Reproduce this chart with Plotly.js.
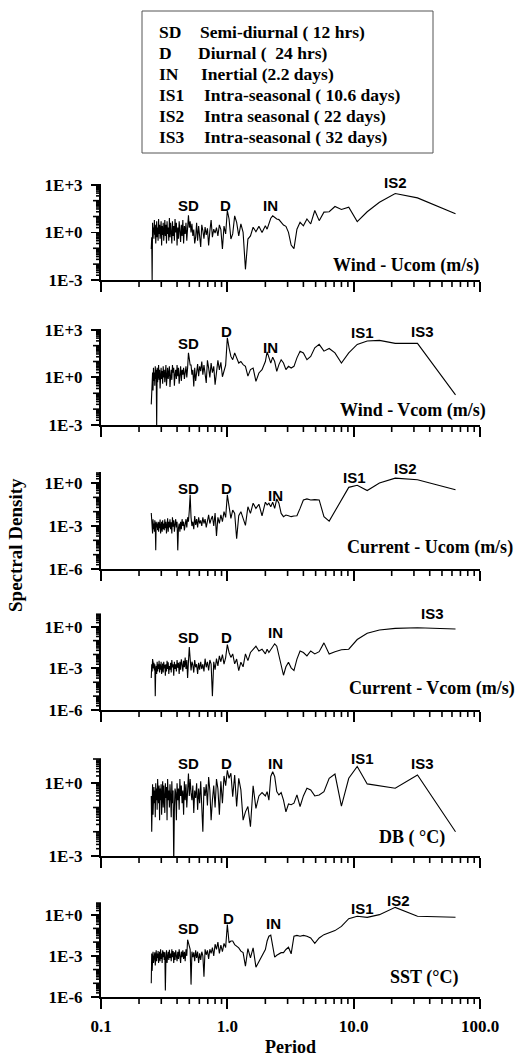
<!DOCTYPE html>
<html><head><meta charset="utf-8">
<script src="https://cdn.plot.ly/plotly-3.0.1.min.js"></script>
<style>html,body{margin:0;padding:0;background:#fff}</style>
</head><body><div id="chart" style="width:528px;height:1057px"></div>
<script>
// Period (days) of each spectral estimate
const periods = [64, 32, 21.33, 16, 12.8, 10.67, 9.143, 8, 7.111, 6.4,
 5.818, 5.333, 4.923, 4.571, 4.267, 4, 3.765, 3.556, 3.368, 3.2,
 3.048, 2.909, 2.783, 2.667, 2.56, 2.462, 2.370, 2.286, 2.207, 2.133,
 2.065, 2,
 1.882, 1.778, 1.684, 1.6, 1.524, 1.455, 1.391, 1.333, 1.28, 1.231, 1.185, 1.143, 1.103, 1.067, 1.032, 1,
 0.9697, 0.9412, 0.9143, 0.8889, 0.8649, 0.8421, 0.8205, 0.8, 0.7805, 0.7619,
 0.7442, 0.7273, 0.7111, 0.6957, 0.6809, 0.6667, 0.6531, 0.64, 0.6275, 0.6154,
 0.6038, 0.5926, 0.5818, 0.5714, 0.5614, 0.5517, 0.5424, 0.5333, 0.5246, 0.5161,
 0.5079, 0.5, 0.4923, 0.4848, 0.4776, 0.4706, 0.4638, 0.4571, 0.4507, 0.4444,
 0.4384, 0.4324, 0.4267, 0.4211, 0.4156, 0.4103, 0.4051, 0.4, 0.3951, 0.3902,
 0.3855, 0.381, 0.3765, 0.3721, 0.3678, 0.3636, 0.3596, 0.3556, 0.3516, 0.3478,
 0.3441, 0.3404, 0.3368, 0.3333, 0.3299, 0.3265, 0.3232, 0.32, 0.3168, 0.3137,
 0.3107, 0.3077, 0.3048, 0.3019, 0.2991, 0.2963, 0.2936, 0.2909, 0.2883, 0.2857,
 0.2832, 0.2807, 0.2783, 0.2759, 0.2735, 0.2712, 0.2689, 0.2667, 0.2645, 0.2623,
 0.2602, 0.2581, 0.256, 0.254, 0.252, 0.25];

const windU = [15, 150, 280, 80, 20, 4.8, 39, 28, 43, 20,
 19, 5.5, 24, 3.4, 7, 2.6, 4.3, 1.6, 0.095, 0.16,
 1, 2.4, 2.9, 4.3, 6.4, 7, 9, 11, 7.8, 3.4,
 1.6, 2.6,
 1, 2.4, 1.1, 2.1, 0.6, 0.38, 0.0047, 1, 3.4, 0.6, 4.3, 11, 0.8, 0.38, 7, 24,
 0.8, 2.5, 0.09, 1.5, 3, 0.6, 2, 0.9, 1.6, 0.5,
 6, 1.2, 0.15, 1.8, 0.7, 2.2, 0.4, 1.3, 3, 0.12,
 0.9, 2.5, 0.3, 4, 0.5, 0.2, 1.5, 0.6, 3.5, 1,
 5, 2, 12, 1.5, 0.3, 4, 0.8, 2.5, 0.2, 6,
 0.6, 3, 0.25, 1.2, 5, 0.4, 2, 0.15, 4, 1,
 7, 0.3, 2.5, 0.6, 5, 0.2, 1.5, 4, 0.5, 8,
 0.3, 2, 0.8, 5, 0.2, 3, 0.6, 6, 1, 0.3,
 4, 0.7, 2.5, 0.15, 5, 1.2, 0.4, 3, 0.8, 7,
 0.3, 2, 0.5, 5, 1.5, 0.2, 3, 0.7, 6, 0.4,
 2, 1, 4, 0.0008, 0.5, 0.09];

const windV = [0.08, 140, 140, 215, 195, 120, 35, 8.1, 35, 66,
 45, 120, 73, 21, 13, 35, 45, 17, 5, 3.9,
 5, 3.1, 8.1, 13, 6.4, 2.4, 10, 19, 8, 21,
 41, 10,
 3.1, 1.9, 0.56, 3.9, 3.1, 1.2, 5, 6.4, 10, 8, 17, 35, 13, 21, 73, 316,
 6, 2, 1.1, 9, 3, 12, 1.5, 0.35, 5, 2,
 8, 1, 4, 12, 0.45, 3, 6, 1.5, 10, 2.5,
 5, 1.2, 7, 2, 0.6, 4, 0.27, 3, 1.5, 6,
 6, 15, 35, 4, 1, 5, 2, 0.8, 4, 1.5,
 3, 0.6, 5, 2, 0.4, 4, 1.2, 6, 0.8, 3,
 1.5, 0.3, 4, 2, 6, 0.7, 3, 1, 0.25, 5,
 2, 0.8, 4, 1.2, 0.3, 6, 2, 0.5, 3, 1,
 5, 0.4, 2.5, 0.8, 4, 1.5, 0.2, 3, 0.7, 6,
 1.5, 0.5, 4, 0.0008, 3, 0.8, 5, 0.3, 2, 0.6,
 4, 0.15, 2, 0.06, 0.5, 0.02];

const currentU = [0.34, 1.7, 2.2, 1, 0.3, 0.7, 0.5, 0.07, 0.012, 0.0022,
 0.0045, 0.066, 0.07, 0.066, 0.078, 0.066, 0.017, 0.0052, 0.005, 0.0045,
 0.0052, 0.0058, 0.0045, 0.0076, 0.039, 0.078, 0.017, 0.046, 0.022, 0.039,
 0.03, 0.046,
 0.0052, 0.033, 0.017, 0.039, 0.0076, 0.022, 0.0011, 0.0034, 0.01, 0.0052, 0.00013, 0.0076, 0.013, 0.0034, 0.017, 0.15,
 0.004, 0.01, 0.002, 0.006, 0.0015, 0.004, 0.0002, 0.008, 0.001, 0.005,
 0.003, 0.0015, 0.006, 0.002, 0.0008, 0.003, 0.0015, 0.004, 0.001, 0.0025,
 0.0015, 0.004, 0.0008, 0.003, 0.0012, 0.005, 0.0006, 0.002, 0.001, 0.004,
 0.15, 0.012, 0.002, 0.004, 0.0008, 0.003, 0.0015, 0.0005, 0.002, 0.001,
 0.003, 0.0006, 0.002, 0.0004, 0.0015, 0.0007, 0.00002, 0.002, 0.0008, 0.003,
 0.0012, 0.0004, 0.0025, 0.0009, 0.004, 0.0003, 0.0018, 0.0006, 0.003, 0.0008,
 0.002, 0.0004, 0.0035, 0.001, 0.0003, 0.002, 0.0007, 0.003, 0.0005, 0.0015,
 0.0006, 0.0025, 0.0004, 0.002, 0.0009, 0.0003, 0.0028, 0.0007, 0.0018, 0.0004,
 0.002, 0.0005, 0.0015, 0.0008, 0.002, 0.00002, 0.001, 0.0025, 0.0004, 0.0015,
 0.0006, 0.003, 0.0003, 0.002, 0.0005, 0.008];

const currentV = [0.69, 0.85, 0.76, 0.59, 0.34, 0.12, 0.024, 0.022, 0.016, 0.011,
 0.069, 0.016, 0.011, 0.018, 0.008, 0.014, 0.018, 0.0047, 0.0007, 0.0011,
 0.0028, 0.0013, 0.00032, 0.0021, 0.011, 0.04, 0.059, 0.034, 0.024, 0.014,
 0.024, 0.011,
 0.024, 0.018, 0.04, 0.024, 0.014, 0.0036, 0.011, 0.0013, 0.0028, 0.0007, 0.0047, 0.0021, 0.011, 0.0062, 0.014, 0.052,
 0.006, 0.002, 0.01, 0.003, 0.008, 0.0015, 0.005, 0.0008, 0.003, 0.00001,
 0.002, 0.004, 0.0007, 0.003, 0.0012, 0.005, 0.0006, 0.002, 0.0009, 0.003,
 0.0008, 0.0025, 0.0004, 0.002, 0.0012, 0.004, 0.0005, 0.0018, 0.003, 0.0007,
 0.008, 0.035, 0.003, 0.0002, 0.004, 0.0009, 0.006, 0.0012, 0.0035, 0.0006,
 0.002, 0.0045, 0.0008, 0.003, 0.0004, 0.0025, 0.0011, 0.004, 0.0006, 0.002,
 0.0009, 0.003, 0.0003, 0.002, 0.0012, 0.004, 0.0005, 0.0025, 0.0008, 0.0015,
 0.0004, 0.0028, 0.0009, 0.0035, 0.0006, 0.002, 0.0003, 0.0018, 0.001, 0.003,
 0.0005, 0.0022, 0.0012, 0.0004, 0.003, 0.0008, 0.002, 0.0005, 0.0035, 0.0009,
 0.002, 0.0006, 0.003, 0.0004, 0.0015, 0.0008, 0.00001, 0.002, 0.0007, 0.0025,
 0.001, 0.003, 0.0047, 0.0006, 0.002, 0.0002];

const dbTemp = [0.01, 2.2, 0.62, 0.78, 0.94, 4.9, 1.6, 0.115, 2.4, 1.6,
 0.45, 0.33, 0.3, 0.53, 0.62, 0.3, 0.11, 0.33, 0.15, 0.13,
 0.14, 0.066, 0.2, 0.41, 0.33, 0.45, 1.9, 3, 1.9, 0.2,
 0.45, 0.3,
 0.41, 0.3, 0.092, 0.78, 0.016, 0.11, 0.066, 0.03, 0.53, 1.6, 0.11, 2.2, 0.28, 2.6, 1.6, 3.4,
 0.8, 2, 0.15, 1.2, 0.05, 0.6, 1.5, 0.1, 0.8, 0.2,
 0.03, 0.5, 1.8, 0.12, 0.9, 0.3, 0.7, 0.01, 0.4, 1.2,
 0.15, 0.6, 0.08, 1, 0.25, 0.5, 0.06, 0.8, 0.2, 0.4,
 1.5, 0.3, 2.5, 0.4, 0.1, 0.9, 0.2, 1.2, 0.05, 0.5,
 0.15, 0.8, 0.3, 1.5, 0.08, 0.6, 0.2, 1, 0.03, 0.4,
 0.6, 0.1, 0.0004, 0.5, 0.15, 1.2, 0.04, 0.3, 0.9, 0.1,
 0.5, 0.2, 1.5, 0.03, 0.7, 0.25, 1, 0.06, 0.4, 0.8,
 0.1, 1.2, 0.3, 0.05, 0.9, 0.2, 0.6, 0.03, 0.8, 0.15,
 0.4, 1.5, 0.08, 0.6, 0.2, 1, 0.04, 0.5, 0.15, 0.7,
 0.3, 0.05, 0.9, 0.2, 0.01, 0.3];

const sst = [0.64, 0.76, 3.4, 1, 0.64, 0.76, 0.51, 0.14, 0.069, 0.047,
 0.035, 0.02, 0.008, 0.02, 0.027, 0.031, 0.027, 0.031, 0.027, 0.0014,
 0.0042, 0.0029, 0.0017, 0.0017, 0.0014, 0.0011, 0.0008, 0.0066, 0.032, 0.027,
 0.012, 0.0029,
 0.001, 0.0004, 0.00015, 0.0038, 0.0007, 0.0034, 0.00018, 0.0017, 0.0022, 0.0038, 0.005, 0.0066, 0.012, 0.012, 0.009, 0.19,
 0.004, 0.008, 0.002, 0.006, 0.0015, 0.01, 0.003, 0.007, 0.001, 0.004,
 0.0015, 0.003, 0.0006, 0.0025, 0.0012, 0.003, 0.00003, 0.001, 0.002, 0.0005,
 0.0015, 0.0003, 0.002, 0.0007, 0.0025, 0.0004, 0.0018, 0.0008, 0.002, 0.000008,
 0.003, 0.005, 0.006, 0.015, 0.001, 0.003, 0.0004, 0.002, 0.0006, 0.0025,
 0.0008, 0.002, 0.0003, 0.0015, 0.003, 0.0006, 0.002, 0.0004, 0.0012, 0.0025,
 0.0005, 0.0018, 0.0003, 0.0022, 0.0008, 0.003, 0.0004, 0.0015, 0.0007, 0.0028,
 0.0005, 0.002, 0.0009, 0.0003, 0.0025, 0.0006, 0.000003, 0.0018, 0.0005, 0.002,
 0.0008, 0.0025, 0.0003, 0.0015, 0.0006, 0.003, 0.0004, 0.002, 0.0009, 0.0003,
 0.0022, 0.0007, 0.0015, 0.0004, 0.0025, 0.0008, 0.0002, 0.0018, 0.0006, 0.0012,
 0.0003, 0.002, 0.0007, 0.00008, 0.0015, 0.00001];

const xTickVals = [0.1, 1, 10, 100];
const xTickText = ['0.1', '1.0', '10.0', '100.0'];
const panelNames = ['Wind - Ucom (m/s)', 'Wind - Vcom (m/s)', 'Current - Ucom (m/s)',
  'Current - Vcom (m/s)', 'DB ( \u00B0C)', 'SST (\u00B0C)'];
const legendAbbr = ['SD', 'D', 'IN', 'IS1', 'IS2', 'IS3'];
const legendDesc = ['Semi-diurnal ( 12 hrs)', 'Diurnal (\u00A0 24 hrs)', 'Inertial (2.2 days)',
  'Intra-seasonal ( 10.6 days)', 'Intra seasonal ( 22 days)', 'Intra-seasonal ( 32 days)'];

// layout helpers (pixel -> paper)
const W = 528, H = 1057;
const px = x => x / W, py = y => 1 - y / H;
const X0 = 101, X1 = 480, XLO = -1, XHI = 2;
const serif = 'Liberation Serif, Times New Roman, serif';
const sans = 'Liberation Sans, Arial, sans-serif';

const panels = [
  {y: windU, top: 184, bot: 280, range: [-3, 3.05], lab: {'-3': '1E-3', '0': '1E+0', '3': '1E+3'},
   nameX: 481, nameY: 266,
   marks: [['SD', 188, 205], ['D', 225, 205], ['IN', 270, 205], ['IS2', 395, 182]]},
  {y: windV, top: 329, bot: 425, range: [-3, 3.05], lab: {'-3': '1E-3', '0': '1E+0', '3': '1E+3'},
   nameX: 488, nameY: 410,
   marks: [['SD', 188, 343], ['D', 226, 331], ['IN', 270, 348], ['IS1', 362, 333], ['IS3', 422, 332]]},
  {y: currentU, top: 472, bot: 569, range: [-6, 0.77], lab: {'-6': '1E-6', '-3': '1E-3', '0': '1E+0'},
   nameX: 515, nameY: 547,
   marks: [['SD', 188, 488], ['D', 226, 488], ['IN', 275, 495], ['IS1', 354, 477], ['IS2', 405, 468]]},
  {y: currentV, top: 614, bot: 710, range: [-6, 0.92], lab: {'-6': '1E-6', '-3': '1E-3', '0': '1E+0'},
   nameX: 517, nameY: 688,
   marks: [['SD', 188, 637], ['D', 226, 637], ['IN', 275, 632], ['IS3', 432, 613]]},
  {y: dbTemp, top: 759, bot: 856, range: [-3, 1], lab: {'-3': '1E-3', '0': '1E+0'},
   nameX: 447, nameY: 837,
   marks: [['SD', 188, 763], ['D', 226, 763], ['IN', 275, 763], ['IS1', 362, 758], ['IS3', 422, 763]]},
  {y: sst, top: 903, bot: 997, range: [-6, 0.85], lab: {'-6': '1E-6', '-3': '1E-3', '0': '1E+0'},
   nameX: 460, nameY: 977,
   marks: [['SD', 188, 928], ['D', 228, 918], ['IN', 273, 923], ['IS1', 362, 908], ['IS2', 398, 900]]}
];

const traces = [];
const layout = {
  width: W, height: H, margin: {l: 0, r: 0, t: 0, b: 0},
  paper_bgcolor: '#fff', plot_bgcolor: '#fff', showlegend: false,
  annotations: [], shapes: []
};
const NP = panels.length;
const tickLine = (xa, ya, xb, yb) => layout.shapes.push({type: 'line', xref: 'paper', yref: 'paper',
  x0: px(xa), y0: py(ya), x1: px(xb), y1: py(yb), line: {color: '#000', width: 1.6}, layer: 'above'});

panels.forEach((p, i) => {
  const n = i + 1, sfx = n === 1 ? '' : String(n);
  traces.push({x: periods, y: p.y, xaxis: 'x' + sfx, yaxis: 'y' + sfx, type: 'scatter', mode: 'lines',
    line: {color: '#000', width: 1.1}, hoverinfo: 'skip'});
  const major = [], text = [];
  for (let e = Math.ceil(p.range[0]); e <= Math.floor(p.range[1]); e++) {
    if (p.lab[String(e)]) { major.push(Math.pow(10, e)); text.push(p.lab[String(e)]); }
  }
  const isBottom = n === NP;
  const xa = {
    type: 'log', range: [XLO, XHI], domain: [px(X0), px(X1)], anchor: 'y' + sfx,
    showgrid: false, zeroline: false, showline: true, linecolor: '#000', linewidth: 2,
    ticks: 'outside', ticklen: 10, tickwidth: 1.8, tickcolor: '#000',
    tickmode: 'array', tickvals: xTickVals,
    showticklabels: isBottom, ticklabelstandoff: 3,
    tickfont: {family: serif, size: 17, color: '#000', weight: 700}
  };
  if (isBottom) xa.ticktext = xTickText;
  layout['xaxis' + sfx] = xa;
  layout['yaxis' + sfx] = {
    type: 'log', range: p.range, domain: [py(p.bot), py(p.top)], anchor: 'x' + sfx,
    showgrid: false, zeroline: false, showline: true, linecolor: '#000', linewidth: 2,
    ticks: 'outside', ticklen: 8, tickwidth: 1.8, tickcolor: '#000',
    tickmode: 'array', tickvals: major, ticktext: text, ticklabelstandoff: 5,
    tickfont: {family: serif, size: 17, color: '#000', weight: 700}
  };
  // short (minor) tick marks, 2..9 within each decade, plus unlabelled decades
  for (let e = XLO; e < XHI; e++) {
    for (let m = 2; m <= 9; m++) {
      const xx = X0 + (Math.log10(m) + e - XLO) / (XHI - XLO) * (X1 - X0);
      tickLine(xx, p.bot, xx, p.bot + 7);
    }
  }
  const lo = p.range[0], hi = p.range[1];
  for (let e = Math.floor(lo); e <= Math.ceil(hi); e++) {
    for (let m = 1; m <= 9; m++) {
      const lv = Math.log10(m) + e;
      if (lv < lo - 1e-9 || lv > hi + 1e-9) continue;
      if (m === 1 && p.lab[String(e)]) continue;
      const yy = p.bot - (lv - lo) / (hi - lo) * (p.bot - p.top);
      tickLine(X0, yy, X0 - (m === 1 ? 8 : 5), yy);
    }
  }
  layout.annotations.push({xref: 'paper', yref: 'paper', x: px(p.nameX), y: py(p.nameY),
    xanchor: 'right', yanchor: 'middle', showarrow: false, text: panelNames[i],
    font: {family: serif, size: 18, color: '#000', weight: 700}});
  p.marks.forEach(mk => layout.annotations.push({xref: 'paper', yref: 'paper', x: px(mk[1]), y: py(mk[2]),
    xanchor: 'center', yanchor: 'middle', showarrow: false, text: mk[0],
    font: {family: sans, size: 15, color: '#000', weight: 700}}));
});

// axis titles
layout.annotations.push({xref: 'paper', yref: 'paper', x: px(15), y: py(545), textangle: -90,
  xanchor: 'center', yanchor: 'middle', showarrow: false, text: 'Spectral Density',
  font: {family: serif, size: 19, color: '#000', weight: 700}});
layout.annotations.push({xref: 'paper', yref: 'paper', x: px(290), y: py(1047),
  xanchor: 'center', yanchor: 'middle', showarrow: false, text: 'Period',
  font: {family: serif, size: 18, color: '#000', weight: 700}});

// key box
layout.shapes.push({type: 'rect', xref: 'paper', yref: 'paper', x0: px(142), x1: px(433), y0: py(153), y1: py(11),
  line: {color: '#555', width: 1}, fillcolor: 'rgba(0,0,0,0)'});
const lineY = [32, 53, 74, 95, 116, 137];
const descX = [198, 196, 199, 202, 202, 202];
legendAbbr.forEach((a, i) => {
  layout.annotations.push({xref: 'paper', yref: 'paper', x: px(157), y: py(lineY[i]), xanchor: 'left', yanchor: 'middle',
    showarrow: false, text: a, font: {family: serif, size: 17.5, color: '#000', weight: 700}});
  layout.annotations.push({xref: 'paper', yref: 'paper', x: px(descX[i]), y: py(lineY[i]), xanchor: 'left', yanchor: 'middle',
    showarrow: false, text: legendDesc[i], font: {family: serif, size: 17.5, color: '#000', weight: 700}});
});

Plotly.newPlot('chart', traces, layout, {staticPlot: true, displayModeBar: false});
</script></body></html>
